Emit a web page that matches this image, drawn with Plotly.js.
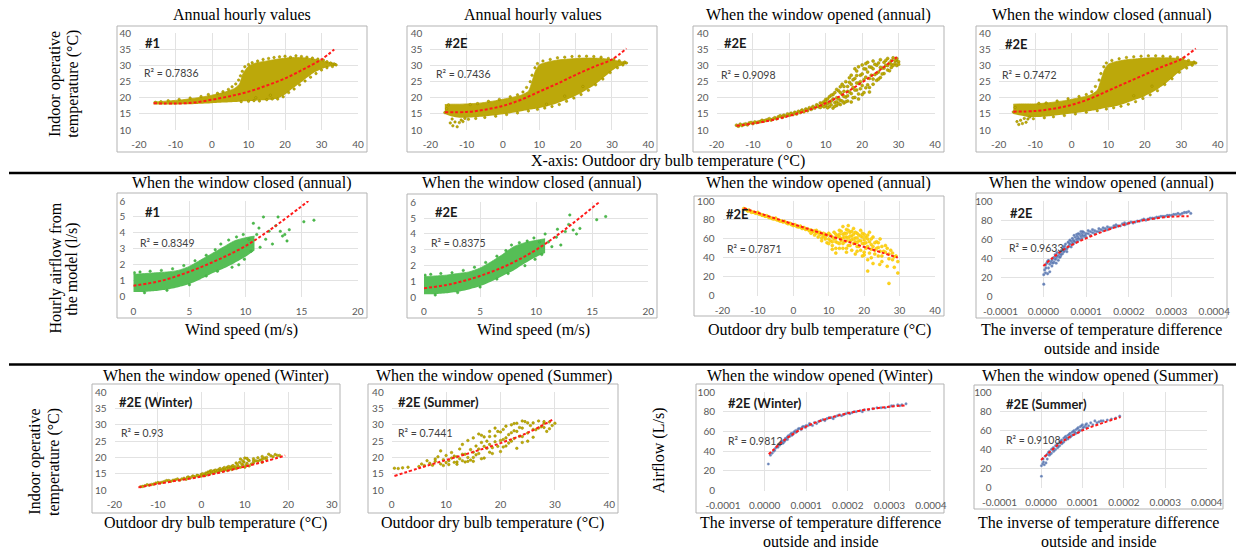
<!DOCTYPE html>
<html><head><meta charset="utf-8">
<script src="https://cdn.plot.ly/plotly-3.0.1.min.js"></script>
<style>html,body{margin:0;padding:0;background:#fff;}#chart{width:1236px;height:552px;}</style>
</head><body><div id="chart"></div>
<script>
// ---------------- tick values / labels ----------------
const tempTicks = [-20, -10, 0, 10, 20, 30, 40];
const tempTickText = ["-20", "-10", "0", "10", "20", "30", "40"];
const tempTicksWinter = [-20, -10, 0, 10, 20, 30];
const tempTickTextWinter = ["-20", "-10", "0", "10", "20", "30"];
const tempTicksSummer = [0, 10, 20, 30, 40];
const tempTickTextSummer = ["0", "10", "20", "30", "40"];
const indoorTicks = [10, 15, 20, 25, 30, 35, 40];
const windTicks = [0, 5, 10, 15, 20];
const smallFlowTicks = [0, 1, 2, 3, 4, 5, 6];
const flowTicks = [0, 20, 40, 60, 80, 100];
const invTicks = [-0.0001, 0, 0.0001, 0.0002, 0.0003, 0.0004];
const invTickText = ["-0.0001", "0.0000", "0.0001", "0.0002", "0.0003", "0.0004"];

// ---------------- Row 1, panel 1 (#1, annual) ----------------
const r1p1BandX  = [-16, -12, -8, -4, 0, 3, 6, 7.5, 8.5, 10, 12, 15, 18, 20, 22, 25, 28, 30, 32, 34];
const r1p1BandLo = [17.9, 17.9, 18.0, 18.1, 18.3, 18.5, 18.7, 18.8, 18.9, 19.0, 19.1, 19.3, 19.8, 21.0, 22.8, 25.3, 27.8, 28.9, 29.6, 30.0];
const r1p1BandHi = [18.7, 19.0, 19.4, 20.0, 20.8, 21.6, 22.8, 24.2, 27.5, 29.8, 30.8, 31.4, 32.0, 32.3, 32.5, 32.4, 32.0, 31.6, 31.0, 30.6];
const r1p1Points = [[-15.5,18.6],[-14,18.8],[-12,19.1],[-9,19.5],[-6,19.9],[-3,20.4],[-1,21.0],[1.5,21.4],[3,21.9],[4.5,22.6],[5.5,23.4],[6.5,24.3],[7.3,25.5],[7.8,26.8],[8.3,28.2],[9,29.6],[10,30.3],[11,30.9],[12.5,31.4],[14,31.9],[15.5,32.2],[17,32.5],[18.5,32.7],[20,32.9],[21.5,32.6],[23,33.0],[24.5,32.8],[26,32.6],[27.5,32.3],[29,32.0],[30.5,31.7],[31.5,31.2],[32.5,30.8],[33.5,30.5],[34,30.2],[33,29.7],[31.5,29.3],[30,28.6],[28.5,27.5],[27,26.4],[25.5,25.2],[24,24.0],[22.5,22.7],[21,21.6],[19.5,20.3],[18,19.6],[16.5,19.6],[15,19.4],[13,19.0],[11.5,19.1],[10,18.9],[8,18.8],[16,20.8],[12,20.0]];
const r1p1TrendX = [-16, -10, -5, 0, 5, 10, 15, 20, 25, 30, 33.5];
const r1p1TrendY = [18.3, 18.2, 18.5, 19.4, 20.5, 21.9, 23.8, 26.0, 28.8, 31.9, 35.0];

// ---------------- Row 1, panel 2 (#2E, annual) ----------------
const r1p2BandX  = [-16, -14, -12, -10, -6, -2, 2, 5, 7, 8, 9, 10, 12, 15, 18, 20, 22, 25, 28, 30, 32, 34];
const r1p2BandLo = [15.0, 14.2, 13.8, 13.8, 14.1, 14.6, 15.2, 15.8, 16.2, 16.4, 16.6, 16.8, 17.3, 18.3, 19.6, 20.6, 21.8, 23.8, 26.5, 28.4, 29.8, 30.5];
const r1p2BandHi = [17.9, 18.0, 18.0, 18.1, 18.4, 19.1, 20.0, 20.8, 22.0, 25.0, 28.5, 30.2, 31.0, 31.7, 32.0, 32.2, 32.3, 32.3, 32.1, 31.8, 31.3, 31.0];
const r1p2Points = [[-16,15.4],[-15.5,16.6],[-15,17.8],[-14.5,12.2],[-14,13.4],[-13.8,11.3],[-13.2,12.5],[-12.6,11.0],[-12,12.3],[-11.5,13.1],[-11,12.6],[-10.5,13.6],[-9.5,13.3],[-9,17.9],[-7,18.2],[-4,18.9],[-1,19.5],[2,20.3],[4,20.9],[5.5,21.8],[6.5,23.2],[7.5,25.0],[8,27.0],[8.8,29.3],[9.5,30.6],[11,31.4],[13,31.9],[15,32.4],[17,32.6],[19,32.8],[21,32.9],[23,32.9],[25,32.8],[27,32.6],[29,32.2],[30.5,31.9],[32,31.5],[33.5,31.1],[34,30.8],[33,30.2],[31.5,29.3],[29.5,27.8],[27.5,25.8],[25.5,24.0],[23.5,22.3],[21.5,21.0],[19.5,19.9],[17.5,18.9],[15.5,17.9],[13.5,17.3],[11.5,16.8],[9.5,16.4],[7,15.9],[4,15.3],[1,14.8],[-2,14.3],[-5,13.9],[-7.5,13.6],[17,20.5],[22,23.5],[12,18.0]];
const r1p2TrendX = [-16, -10, -5, 0, 5, 10, 15, 20, 25, 30, 34];
const r1p2TrendY = [15.5, 15.6, 16.3, 17.5, 19.4, 21.9, 24.4, 27.1, 29.6, 31.9, 35.3];

// ---------------- Row 1, panel 3 (#2E, window opened) ----------------
const r1p3Points = [[-14.5,11.5],[-14,11.2],[-13.5,11.8],[-13,11.4],[-12,11.9],[-11.5,11.6],[-11,12.2],[-10,12.0],[-9.5,12.5],[-9,12.3],[-8,12.6],[-7.5,13.0],[-7,12.8],[-6,13.2],[-5.5,13.5],[-5,13.1],[-4,13.8],[-3.5,13.5],[-3,14.1],[-2.5,14.4],[-2,13.9],[-1.5,14.6],[-1,14.3],[-0.5,15.0],[0,14.6],[0.5,15.2],[1,14.8],[1.5,15.5],[2,15.0],[2.5,15.8],[3,15.4],[3.5,16.2],[4,15.7],[4.5,16.5],[5,16.0],[5.5,16.9],[6,16.4],[6.5,17.3],[7,16.8],[7.5,17.8],[8,17.2],[8.5,18.4],[9,17.6],[9.5,18.8],[10,17.5],[10,19.5],[10.5,18.2],[11,20.3],[11,17.3],[11.5,19.0],[12,16.8],[12,21.0],[12.5,18.5],[13,20.0],[13,17.6],[13.5,22.2],[14,19.2],[14,17.9],[14.5,21.0],[15,23.5],[15,18.4],[15.5,20.2],[16,22.0],[16,19.0],[16.5,24.8],[17,21.3],[17,18.7],[17.5,23.2],[18,26.0],[18,20.1],[18.5,22.4],[18.5,28.3],[19,24.5],[19,19.6],[19.5,27.0],[20,21.0],[20,30.2],[20.5,25.6],[21,23.1],[21,28.9],[21.5,31.0],[22,26.0],[22,21.8],[22.5,29.5],[23,24.2],[23,31.4],[23.5,27.2],[24,30.1],[24,25.4],[24.5,28.0],[25,31.8],[25,26.3],[25.5,29.2],[26,31.0],[26,27.5],[26.5,30.1],[27,32.2],[27,28.6],[27.5,30.8],[28,31.5],[28,29.4],[28.5,32.4],[29,30.6],[29.5,31.5],[29.5,30.0],[30,31.2],
  [-12.5,11.7],[-10.5,12.3],[-8.5,12.5],[-6.5,13.0],[-4.5,13.4],[-1.8,14.2],[0.3,14.9],[1.8,15.2],[3.3,15.9],[4.8,16.3],[6.3,16.8],[7.8,17.5],[8.5,17.0],[9,18.3],[9.5,17.2],[10,18.8],[10.5,19.6],[10.5,16.9],[11,18.6],[11.5,20.8],[11.5,17.8],[12,19.6],[12.5,21.6],[12.5,17.4],[13,18.8],[13,22.6],[13.5,19.8],[13.5,18.2],[14,21.6],[14,23.4],[14.5,19.0],[14.5,24.2],[15,22.0],[15,20.4],[15.5,25.0],[15.5,18.8],[16,23.5],[16,20.6],[16.5,21.8],[16.5,26.2],[17,24.2],[17,27.0],[17.5,20.0],[17.5,25.6],[18,22.4],[18,29.0],[18.5,24.6],[18.5,26.9],[19,21.2],[19,29.6],[19.5,25.0],[19.5,22.8],[20,27.4],[20,23.8],[20.5,29.0],[20.5,21.6],[21,26.4],[21,30.6],[21.5,24.0],[21.5,28.0],[22,29.6],[22,23.2],[22.5,27.0],[23,29.0],[23,25.8],[23.5,30.4],[24,27.6],[24.5,30.8],[24.5,25.8],[25,29.4],[25.5,27.4],[26,29.2],[26.5,31.6],[27,30.0],[27.5,28.4],[28,30.4],[28.5,30.0],[29,31.6],[29.5,32.2],[30,30.4]];
const r1p3TrendX = [-14.5, -10, -5, 0, 5, 10, 15, 20, 25, 29.5];
const r1p3TrendY = [11.3, 12.0, 13.0, 14.4, 16.1, 18.3, 21.2, 24.8, 28.7, 32.6];

// ---------------- Row 1, panel 4 (#2E, window closed) ----------------
const r1p4BandX  = [-16, -14, -12, -10, -6, -2, 2, 5, 7, 8, 9, 10, 12, 15, 18, 20, 22, 25, 28, 30, 32, 34];
const r1p4BandLo = [15.0, 14.5, 14.0, 14.0, 14.3, 14.8, 15.4, 15.9, 16.3, 16.5, 16.8, 17.0, 17.4, 18.4, 19.6, 20.5, 21.6, 23.8, 26.6, 28.5, 29.8, 30.4];
const r1p4BandHi = [18.0, 18.1, 18.1, 18.1, 18.5, 19.1, 20.0, 20.8, 22.3, 25.5, 28.8, 30.4, 31.2, 31.8, 32.1, 32.3, 32.4, 32.4, 32.3, 32.0, 31.4, 31.0];
const r1p4Points = [[-16,15.6],[-15.5,17.0],[-15,12.6],[-14.5,11.7],[-14,13.0],[-13.5,12.0],[-13,13.6],[-12.5,12.4],[-12,13.4],[-11.5,14.0],[-10.5,13.5],[-9,18.3],[-7,18.4],[-4,19.0],[-1,19.7],[2,20.4],[4,21.0],[5.5,21.9],[6.5,23.5],[7.5,25.5],[8,27.5],[8.8,29.6],[9.5,30.8],[11,31.6],[13,32.1],[15,32.5],[17,32.7],[19,32.9],[21,33.0],[23,33.0],[25,32.9],[27,32.7],[29,32.5],[30.5,32.2],[32,31.6],[33.5,31.1],[34,30.8],[33,30.1],[31.5,29.2],[29.5,27.9],[27.5,25.9],[25.5,24.1],[23.5,22.2],[21.5,20.9],[19.5,19.8],[17.5,18.8],[15.5,18.0],[13.5,17.4],[11.5,16.9],[9.5,16.5],[7,16.0],[4,15.5],[1,15.0],[-2,14.5],[-5,14.1],[-7.5,13.8],[17,20.6],[22,23.6]];
const r1p4TrendX = [-16, -10, -5, 0, 5, 10, 15, 20, 25, 30, 34];
const r1p4TrendY = [15.7, 15.9, 16.6, 17.8, 19.7, 22.2, 24.7, 27.2, 29.7, 32.0, 35.3];

// ---------------- Row 2, panel 1 (#1 airflow vs wind) ----------------
const r2p1BandX  = [0, 1, 2, 3, 4, 5, 6, 7, 8, 9, 10, 10.8];
const r2p1BandLo = [0.3, 0.3, 0.35, 0.45, 0.6, 0.8, 1.1, 1.45, 1.75, 2.1, 2.5, 2.9];
const r2p1BandHi = [1.4, 1.45, 1.5, 1.55, 1.65, 1.9, 2.3, 2.7, 3.1, 3.5, 3.7, 3.8];
const r2p1Points = [[0.1,1.5],[0.6,1.55],[1.5,1.6],[2.5,1.65],[3.5,1.75],[4.5,1.95],[5.5,2.25],[6.5,2.6],[7.3,2.95],[7.8,3.3],[8.5,3.55],[9.2,3.75],[9.8,3.9],[10.3,3.6],[10.7,4.6],[11.0,3.9],[11.2,4.3],[11.6,5.0],[11.8,3.6],[12.1,4.1],[12.4,3.3],[12.7,4.45],[12.9,5.0],[13.1,4.1],[13.3,3.8],[13.5,3.9],[13.7,3.5],[13.9,4.2],[15.2,4.7],[16.1,4.8],[9.4,2.0],[8.8,1.85],[10.5,2.85],[11.3,3.1],[7.5,1.6],[6.5,1.3],[5,0.75],[3,0.4],[1,0.25],[9.9,2.35]];
const r2p1TrendX = [0, 2.5, 5, 7.5, 10, 12.5, 15.6];
const r2p1TrendY = [0.69, 1.0, 1.57, 2.3, 3.18, 4.35, 6.0];

// ---------------- Row 2, panel 2 (#2E airflow vs wind) ----------------
const r2p2BandX  = [0, 1, 2, 3, 4, 5, 6, 7, 8, 9, 10, 10.8];
const r2p2BandLo = [0.2, 0.2, 0.25, 0.35, 0.5, 0.7, 1.0, 1.35, 1.7, 2.15, 2.55, 2.8];
const r2p2BandHi = [1.3, 1.35, 1.4, 1.5, 1.6, 1.85, 2.25, 2.7, 3.2, 3.45, 3.6, 3.7];
const r2p2Points = [[0.1,1.4],[0.6,1.45],[1.5,1.5],[2.5,1.55],[3.5,1.7],[4.5,1.9],[5.5,2.2],[6.5,2.6],[7.3,2.95],[7.8,3.3],[8.5,3.45],[9.2,3.55],[9.8,3.75],[10.3,3.5],[10.8,4.0],[11.1,3.5],[11.4,3.2],[11.8,3.8],[12.2,3.3],[12.6,4.15],[12.9,4.6],[13.0,5.2],[13.3,4.25],[13.6,4.0],[13.9,4.35],[15.4,4.9],[16.2,5.1],[11.9,4.3],[9.0,2.0],[10.5,2.7],[7.5,1.5],[6.5,1.15],[5,0.65],[3,0.3],[1,0.15],[9.9,2.4]];
const r2p2TrendX = [0, 2.5, 5, 7.5, 10, 12.5, 15.6];
const r2p2TrendY = [0.57, 0.85, 1.35, 2.05, 3.0, 4.25, 6.0];

// ---------------- Row 2, panel 3 (#2E airflow vs outdoor temp) ----------------
const r2p3Points = [[-14,92],[-13.5,91.5],[-13,90],[-12.5,90.5],[-12,89],[-11.5,88.5],[-11,88],[-10.5,87],[-10,88],[-9.5,86],[-9,85.5],[-8.5,85],[-8,84],[-7.5,84.5],[-7,83],[-6.5,82.5],[-6,81.5],[-5.5,81],[-5,82],[-4.5,80],[-4,79.5],[-3.5,79],[-3,78],[-2.5,78.5],[-2,77],[-1.5,76],[-1,76.5],[-0.5,75],[0,74],[0.5,75],[1,73],[1.5,72.5],[2,73.5],[2.5,71],[3,72],[3.5,70],[4,70.5],[4.5,68.5],[5,69.5],[5.5,67.5],[6,68.5],[6.5,66],[7,67],[7.5,64.5],[8,65.5],[8,61],[8.5,63],[9,60],[9,65],[9.5,56],[10,66],[10.5,58],[11,62],[11,53],[11.5,67],[12,57],[12,50],[12.5,63],[13,69],[13,55],[13.5,60],[14,73],[14,65],[14,50],[14.5,57],[15,70],[15,62],[15,46],[15.5,74],[15.5,53],[16,67],[16,58],[16.5,63],[16.5,48],[17,71],[17,55],[17.5,61],[17.5,44],[18,66],[18,52],[18.5,58],[19,69],[19,48],[19.5,62],[19.5,42],[20,55],[20,65],[20.5,50],[21,60],[21,38],[21.5,67],[21.5,45],[22,54],[22.5,62],[22.5,34],[23,48],[23.5,57],[24,42],[24,51],[24.5,60],[25,36],[25.5,47],[26,53],[26.5,31],[27,44],[27,13],[27.5,48],[28,38],[28.5,30],[29,42],[29.5,24],[29.5,36],[21,26],[24.4,33],
  [-13.8,91],[-12.8,89.5],[-11.8,88],[-10.8,87.5],[-9.8,86.5],[-8.8,85],[-7.8,84],[-6.8,82.5],[-5.8,81.5],[-4.8,80.5],[-3.8,79],[-2.8,78],[-1.8,77],[-0.8,76],[0.2,74.5],[1.2,73.5],[2.2,72],[3.2,71],[4.2,70],[5,66],[6,64],[6.5,69],[7,62],[7.5,67],[8,58],[8.5,66],[9,62],[9.5,64],[10,60],[10,55],[10.5,64],[11,57],[11.5,60],[12,65],[12,61],[12.5,56],[13,62],[13,65],[13.5,58],[13.5,68],[14,61],[14,55],[14.5,66],[14.5,62],[15,58],[15,66],[15.5,61],[15.5,69],[16,63],[16,53],[16.5,59],[16.5,68],[17,60],[17,65],[17.5,57],[17.5,67],[18,61],[18,56],[18.5,64],[18.5,52],[19,58],[19,63],[19.5,55],[19.5,66],[20,59],[20,46],[20.5,62],[20.5,56],[21,52],[21,64],[21.5,57],[22,49],[22,60],[22.5,52],[23,56],[23,44],[23.5,50],[24,56],[24.5,47],[25,52],[25,42],[26,46],[26.5,50],[27,39],[28,45],[28.5,41],[13,50],[11,49],[12,45],[15,50],[18,47],[20,43],[22,40]];
const r2p3TrendX = [-14, -10, -5, 0, 5, 10, 15, 20, 25, 29.5];
const r2p3TrendY = [92.3, 87.5, 81.5, 75.5, 69.5, 63.5, 57.5, 51.5, 45.5, 40.2];

// ---------------- Row 2, panel 4 (#2E airflow vs 1/dT) ----------------
const r2p4Points = [[0.1e-5,13],[0.1e-5,23],[0.5e-5,25],[1.0e-5,24],[1.5e-5,26],[0.5e-5,33],[1.0e-5,37],[1.2e-5,30],[1.5e-5,34],[2e-5,38],[2e-5,32],[2.5e-5,36],[2.5e-5,41],[3e-5,40],[3e-5,35],[3.5e-5,43],[3.5e-5,38],[4e-5,42],[4e-5,47],[4.5e-5,45],[4.5e-5,50],[5e-5,48],[5e-5,53],[5.5e-5,50],[5.5e-5,47],[6e-5,53],[6e-5,56],[6.5e-5,52],[6.5e-5,58],[7e-5,55],[7e-5,59],[7.5e-5,57],[7.5e-5,62],[8e-5,58],[8e-5,63],[8.5e-5,60],[8.5e-5,65],[9e-5,61],[9e-5,66],[9.5e-5,63],[9.5e-5,67],[1e-4,62],[1e-4,66],[1.1e-4,64],[1.1e-4,68],[1.2e-4,66],[1.2e-4,69],[1.3e-4,68],[1.3e-4,71],[1.4e-4,69],[1.4e-4,72],[1.5e-4,70],[1.5e-4,73],[1.6e-4,72],[1.7e-4,73],[1.7e-4,75],[1.8e-4,74],[1.9e-4,75],[1.9e-4,77],[2e-4,77],[2.1e-4,77],[2.2e-4,79],[2.3e-4,80],[2.4e-4,80],[2.5e-4,82],[2.6e-4,82],[2.7e-4,83],[2.8e-4,84],[2.9e-4,85],[3e-4,85],[3.1e-4,86],[3.2e-4,86],[3.3e-4,88],[3.4e-4,89],[3.45e-4,87],
  [0.3e-5,28],[0.6e-5,30],[0.8e-5,35],[1.2e-5,38],[1.8e-5,36],[2.2e-5,40],[2.2e-5,35],[2.8e-5,39],[2.8e-5,44],[3.2e-5,42],[3.2e-5,46],[3.8e-5,45],[3.8e-5,41],[4.2e-5,48],[4.2e-5,44],[4.8e-5,47],[4.8e-5,52],[5.2e-5,50],[5.2e-5,55],[5.8e-5,52],[5.8e-5,57],[6.2e-5,55],[6.2e-5,59],[6.8e-5,56],[6.8e-5,61],[7.2e-5,58],[7.2e-5,64],[7.8e-5,60],[7.8e-5,65],[8.2e-5,61],[8.2e-5,66],[8.8e-5,63],[8.8e-5,68],[9.2e-5,64],[9.2e-5,68],[9.8e-5,64],[1.05e-4,66],[1.05e-4,69],[1.15e-4,67],[1.15e-4,70],[1.25e-4,68],[1.35e-4,70],[1.45e-4,71],[1.55e-4,72],[1.65e-4,74],[1.75e-4,74],[1.85e-4,76],[1.95e-4,76],[2.05e-4,78],[2.15e-4,78],[2.25e-4,79],[2.35e-4,81],[2.45e-4,81],[2.55e-4,82],[2.65e-4,83],[2.75e-4,84],[2.85e-4,84],[2.95e-4,85],[3.05e-4,86],[3.15e-4,87],[3.25e-4,87],[3.35e-4,88]];
const r2p4TrendX = [0, 2e-5, 5e-5, 1e-4, 1.5e-4, 2e-4, 2.5e-4, 3e-4, 3.4e-4];
const r2p4TrendY = [32, 40, 50, 61, 69.7, 76.7, 81, 83.6, 84];

// ---------------- Row 3, panel 1 (#2E winter, indoor temp) ----------------
const r3p1Points = [[-14,11.0],[-13,11.3],[-12,11.5],[-11,11.8],[-10.5,12.1],[-10,12.3],[-9,12.4],[-8,12.9],[-7,12.7],[-6,13.1],[-5.5,13.4],[-5,13.0],[-4,13.6],[-3.5,13.3],[-3,14.0],[-2.5,13.8],[-2,14.3],[-1.5,14.0],[-1,14.5],[-0.5,14.2],[0,14.8],[0,14.3],[0.5,14.6],[1,15.2],[1,14.7],[1.5,15.5],[2,15.0],[2,15.8],[2.5,15.4],[3,16.0],[3,15.3],[3.5,15.7],[4,16.3],[4,15.5],[4.5,16.0],[5,16.6],[5,15.8],[5.5,16.2],[6,17.0],[6,16.0],[6.5,16.5],[7,17.3],[7,16.3],[7.5,16.8],[8,18.3],[8,16.6],[8.5,17.2],[9,19.5],[9,17.0],[9.5,17.7],[10,19.8],[10,17.0],[10.5,18.2],[11,19.0],[11,17.4],[12,18.3],[12,19.6],[13,18.8],[13,19.9],[14,19.4],[14,18.5],[15,20.0],[15.5,21.0],[16,20.5],[17,20.9],[18,20.6],
  [-13.5,11.1],[-12.5,11.6],[-11.5,11.7],[-9.5,12.2],[-8.5,12.6],[-7.5,12.9],[-6.5,13.0],[-4.5,13.4],[-3.2,13.9],[-1.8,14.2],[-0.8,14.4],[0.3,15.0],[0.8,14.4],[1.3,15.0],[1.8,15.3],[2.3,15.9],[2.8,15.6],[3.3,16.1],[3.8,15.9],[4.3,16.6],[4.8,16.1],[5.3,16.9],[5.8,16.5],[6.3,17.2],[6.8,16.8],[7.3,17.5],[7.8,17.1],[8.3,17.8],[8.8,18.5],[9.3,18.0],[9.8,18.6],[10.3,17.6],[10.8,19.2],[11.5,18.0],[12.5,19.0],[13.5,19.2],[14.5,19.8],[15,19.3],[16.5,20.2],[17.5,20.6],[14,20.3],[12,18.9],[10.5,19.7],[9.5,19.0]];
const r3p1TrendX = [-14.5, -10, -5, 0, 5, 10, 15, 19.3];
const r3p1TrendY = [10.8, 11.9, 13.0, 14.1, 15.6, 17.2, 18.9, 20.6];

// ---------------- Row 3, panel 2 (#2E summer, indoor temp) ----------------
const r3p2Points = [[0.5,16.7],[1.2,16.6],[2,16.8],[3,17.0],[5,17.2],[5.5,18.0],[6,17.5],[6.5,19.0],[7,18.2],[7.5,17.6],[8,18.8],[8.5,20.2],[9,18.0],[9,22.0],[9.5,19.3],[10,18.4],[10,20.6],[10.5,17.8],[11,19.8],[11,21.5],[11.5,18.5],[12,20.2],[12,17.9],[12.5,22.6],[13,19.0],[13,24.0],[13.5,21.0],[14,18.8],[14,25.2],[14.5,22.4],[15,20.0],[15,26.0],[15.5,23.5],[16,21.2],[16,27.2],[16.5,24.6],[17,19.8],[17,26.3],[17.5,22.8],[18,28.0],[18,24.0],[18.5,21.2],[19,26.6],[19,29.0],[19.5,23.4],[20,27.8],[20,21.8],[20.5,25.5],[21,29.6],[21,23.5],[21.5,27.0],[22,30.0],[22,25.0],[22.5,28.2],[23,22.8],[23,30.5],[23.5,26.5],[24,29.0],[24,24.6],[24.5,31.0],[25,27.5],[25.5,29.8],[26,26.2],[26,30.6],[26.5,28.5],[27,31.2],[27.5,29.4],[28,30.5],[28.5,28.0],[29,30.9],[29.5,29.8],
  [8,19.5],[9.5,17.5],[10.5,19.0],[11.5,20.4],[12,18.6],[12.5,19.6],[13,21.0],[13.5,18.6],[14,20.0],[14.5,19.2],[15,21.6],[15,18.8],[15.5,20.8],[16,22.6],[16.5,19.6],[16.5,26.8],[17,23.4],[17.5,25.0],[18,21.6],[18,26.4],[18.5,23.0],[19,24.8],[19.5,28.0],[20,25.2],[20.5,23.2],[20.5,28.6],[21,26.0],[21.5,24.4],[22,27.6],[22.5,25.8],[22.5,30.4],[23,28.0],[23.5,29.2],[24,26.4],[24,31.2],[25,30.6],[25,25.0],[26,28.6],[27,29.0],[28,29.2],[28,31.0],[29,28.8],[30,30.5]];
const r3p2TrendX = [0.5, 5, 10, 15, 20, 25, 29.5];
const r3p2TrendY = [14.3, 16.7, 19.2, 21.7, 24.4, 27.6, 31.5];

// ---------------- Row 3, panel 3 (#2E winter airflow) ----------------
const r3p3Points = [[0.9e-5,27],[1.4e-5,36],[1.8e-5,38],[2.2e-5,40],[2.6e-5,43],[3e-5,45],[3.4e-5,47],[3.8e-5,48],[4.2e-5,50],[4.6e-5,51],[5e-5,53],[5.4e-5,54],[5.8e-5,56],[6.2e-5,57],[6.6e-5,58],[7e-5,59],[7.5e-5,61],[8e-5,62],[8.5e-5,63],[9e-5,64],[9.5e-5,65],[1e-4,66],[1.05e-4,66],[1.1e-4,67],[1.2e-4,69],[1.3e-4,70],[1.4e-4,72],[1.5e-4,73],[1.6e-4,74],[1.7e-4,75],[1.8e-4,77],[1.9e-4,77],[2e-4,79],[2.1e-4,79],[2.2e-4,80],[2.3e-4,81],[2.4e-4,82],[2.5e-4,82],[2.6e-4,83],[2.8e-4,84],[3e-4,85],[3.1e-4,86],[3.2e-4,87],[3.3e-4,87],[3.4e-4,88],[4.5e-5,49],[5.5e-5,52],[6.5e-5,56],[7.5e-5,59],[1.15e-4,66],
  [2.4e-5,41],[3.2e-5,44],[3.6e-5,46],[4e-5,49],[4.4e-5,48],[4.8e-5,50],[5.2e-5,52],[5.6e-5,55],[6e-5,55],[6.4e-5,58],[6.8e-5,57],[7.2e-5,60],[7.8e-5,60],[8.2e-5,63],[8.8e-5,62],[9.2e-5,65],[9.8e-5,64],[1.08e-4,68],[1.25e-4,68],[1.35e-4,71],[1.45e-4,71],[1.55e-4,74],[1.65e-4,73],[1.75e-4,76],[1.85e-4,76],[1.95e-4,78],[2.05e-4,78],[2.15e-4,80],[2.35e-4,80],[2.7e-4,84],[2.9e-4,84],[3.05e-4,86],[3.25e-4,86]];
const r3p3TrendX = [1e-5, 2e-5, 5e-5, 1e-4, 1.5e-4, 2e-4, 2.5e-4, 3e-4, 3.4e-4];
const r3p3TrendY = [37, 41, 52, 65, 73, 78.5, 82.5, 85, 86.5];

// ---------------- Row 3, panel 4 (#2E summer airflow) ----------------
const r3p4Points = [[0.1e-5,12],[0.1e-5,23],[0.4e-5,25],[0.8e-5,24],[1.2e-5,26],[0.5e-5,30],[1e-5,33],[1.5e-5,35],[1.5e-5,30],[2e-5,38],[2e-5,34],[2.5e-5,40],[2.5e-5,36],[3e-5,42],[3e-5,38],[3.5e-5,44],[3.5e-5,40],[4e-5,46],[4e-5,42],[4.5e-5,48],[4.5e-5,44],[5e-5,50],[5e-5,46],[5.5e-5,52],[5.5e-5,48],[6e-5,54],[6e-5,50],[6.5e-5,55],[6.5e-5,51],[7e-5,57],[7e-5,53],[7.5e-5,58],[7.5e-5,55],[8e-5,60],[8e-5,56],[8.5e-5,61],[8.5e-5,57],[9e-5,63],[9e-5,58],[9.5e-5,64],[9.5e-5,60],[1e-4,66],[1e-4,61],[1.05e-4,64],[1.1e-4,67],[1.1e-4,63],[1.2e-4,68],[1.25e-4,66],[1.3e-4,70],[1.4e-4,69],[1.5e-4,70],[1.6e-4,71],[1.7e-4,72],[1.8e-4,73],[1.9e-4,75],
  [0.6e-5,27],[1.8e-5,37],[2.2e-5,35],[2.8e-5,41],[3.2e-5,39],[3.8e-5,45],[4.2e-5,43],[4.8e-5,49],[5.2e-5,47],[5.8e-5,53],[6.2e-5,52],[6.8e-5,56],[7.2e-5,54],[7.8e-5,59],[8.2e-5,58],[8.8e-5,62],[9.2e-5,60],[9.8e-5,65],[1.02e-4,63],[1.08e-4,66],[1.15e-4,65],[1.35e-4,68],[1.45e-4,70]];
const r3p4TrendX = [0, 2e-5, 5e-5, 1e-4, 1.5e-4, 1.92e-4];
const r3p4TrendY = [29, 37, 48, 60, 68, 74];

// ---------------- layout helpers ----------------
const W = 1236, H = 552;
const OLIVE = {fill: '#bca80a', mk: '#c2ae00', mkLine: '#978600'};
const GREEN = {fill: '#56be56', mk: '#4cbb4c', mkLine: '#40aa40'};
const YELLOW = {mk: '#ffd21a', mkLine: '#f2c400'};
const BLUE = {mk: 'rgba(80,110,170,0.85)', mkLine: 'rgba(150,170,210,0.6)'};

const panels = [
  {plot:[139,33.3,358,130], frame:[117,26,367,152], xr:[-20,40], yr:[10,40], xt:tempTicks, xtt:tempTickText, yt:indoorTicks,
   band:[r1p1BandX,r1p1BandLo,r1p1BandHi], pts:r1p1Points, col:OLIVE, tr:[r1p1TrendX,r1p1TrendY], msize:2.5,
   label:['#1',143,43], r2:['R² = 0.7836',142,73]},
  {plot:[430.3,33.3,648.3,130], frame:[407,26,657,152], xr:[-20,40], yr:[10,40], xt:tempTicks, xtt:tempTickText, yt:indoorTicks,
   band:[r1p2BandX,r1p2BandLo,r1p2BandHi], pts:r1p2Points, col:OLIVE, tr:[r1p2TrendX,r1p2TrendY], msize:2.5,
   label:['#2E',443,43], r2:['R² = 0.7436',434,74]},
  {plot:[716.5,33.3,935,130], frame:[693,26,944,152], xr:[-20,40], yr:[10,40], xt:tempTicks, xtt:tempTickText, yt:indoorTicks,
   pts:r1p3Points, col:OLIVE, tr:[r1p3TrendX,r1p3TrendY], msize:3,
   label:['#2E',722,43], r2:['R² = 0.9098',719,75]},
  {plot:[998.7,33.3,1217.7,130], frame:[976,26,1227,152], xr:[-20,40], yr:[10,40], xt:tempTicks, xtt:tempTickText, yt:indoorTicks,
   band:[r1p4BandX,r1p4BandLo,r1p4BandHi], pts:r1p4Points, col:OLIVE, tr:[r1p4TrendX,r1p4TrendY], msize:2.5,
   label:['#2E',1003,44], r2:['R² = 0.7472',1000,75]},

  {plot:[133.3,201,357.7,296.7], frame:[117,193,367,318], xr:[0,20], yr:[0,6], xt:windTicks, yt:smallFlowTicks,
   band:[r2p1BandX,r2p1BandLo,r2p1BandHi], pts:r2p1Points, col:GREEN, tr:[r2p1TrendX,r2p1TrendY], msize:2.5,
   label:['#1',143,212], r2:['R² = 0.8349',138,243]},
  {plot:[424,202.3,648.3,297.3], frame:[407,194,657,318], xr:[0,20], yr:[0,6], xt:windTicks, yt:smallFlowTicks,
   band:[r2p2BandX,r2p2BandLo,r2p2BandHi], pts:r2p2Points, col:GREEN, tr:[r2p2TrendX,r2p2TrendY], msize:2.5,
   label:['#2E',433,212], r2:['R² = 0.8375',429,243]},
  {plot:[722.5,201,935,295.7], frame:[694,196,944,316], xr:[-20,40], yr:[0,100], xt:tempTicks, xtt:tempTickText, yt:flowTicks,
   pts:r2p3Points, col:YELLOW, tr:[r2p3TrendX,r2p3TrendY], msize:3,
   label:['#2E',724,214], r2:['R² = 0.7871',725,249]},
  {plot:[1000.6,201,1214.3,296.7], frame:[976,193,1227,318], xr:[-0.0001,0.0004], yr:[0,100], xt:invTicks, xtt:invTickText, yt:flowTicks,
   pts:r2p4Points, col:BLUE, tr:[r2p4TrendX,r2p4TrendY], msize:2.8,
   label:['#2E',1008,213], r2:['R² = 0.9633',1007,248]},

  {plot:[114.5,392.3,331.7,490], frame:[92,384,340,513], xr:[-20,30], yr:[10,40], xt:tempTicksWinter, xtt:tempTickTextWinter, yt:indoorTicks,
   pts:r3p1Points, col:OLIVE, tr:[r3p1TrendX,r3p1TrendY], msize:2.6,
   label:['#2E (Winter)',117,402], r2:['R² = 0.93',119,433]},
  {plot:[391.7,392.3,609.3,490], frame:[368,384,618,513], xr:[0,40], yr:[10,40], xt:tempTicksSummer, xtt:tempTickTextSummer, yt:indoorTicks,
   pts:r3p2Points, col:OLIVE, tr:[r3p2TrendX,r3p2TrendY], msize:2.6,
   label:['#2E (Summer)',396,402], r2:['R² = 0.7441',396,433]},
  {plot:[723,392,931,490.7], frame:[696,384,944,513], xr:[-0.0001,0.0004], yr:[0,100], xt:invTicks, xtt:invTickText, yt:flowTicks,
   pts:r3p3Points, col:BLUE, tr:[r3p3TrendX,r3p3TrendY], msize:2.6,
   label:['#2E (Winter)',726,403], r2:['R² = 0.9812',726,441]},
  {plot:[999.6,392.3,1206.7,487.7], frame:[974,385,1223,509], xr:[-0.0001,0.0004], yr:[0,100], xt:invTicks, xtt:invTickText, yt:flowTicks,
   pts:r3p4Points, col:BLUE, tr:[r3p4TrendX,r3p4TrendY], msize:2.6,
   label:['#2E (Summer)',1004,404], r2:['R² = 0.9108',1004,440]}
];

const TICKFONT = {family: 'Lato, "Open Sans", sans-serif', size: 10, color: '#595959'};
const SERIF = 'Liberation Serif, "Times New Roman", serif';

const traces = [];
const layout = {
  width: W, height: H, margin: {l:0, r:0, t:0, b:0},
  paper_bgcolor: '#ffffff', plot_bgcolor: '#ffffff', showlegend: false,
  annotations: [], shapes: []
};

function annPx(text, x, y, o) {
  return Object.assign({text: text, xref: 'paper', yref: 'paper', x: x / W, y: 1 - y / H,
    showarrow: false, xanchor: 'center', yanchor: 'middle'}, o || {});
}

panels.forEach((p, i) => {
  const n = i + 1;
  const xa = n === 1 ? 'x' : 'x' + n, ya = n === 1 ? 'y' : 'y' + n;
  const xk = n === 1 ? 'xaxis' : 'xaxis' + n, yk = n === 1 ? 'yaxis' : 'yaxis' + n;
  const [l, t, r, b] = p.plot;
  layout[xk] = {
    domain: [l / W, r / W], anchor: ya, range: p.xr, fixedrange: true,
    tickmode: 'array', tickvals: p.xt, ticktext: p.xtt || p.xt.map(String),
    showgrid: true, gridcolor: '#e2e2e2', gridwidth: 1, zeroline: false, showline: false,
    ticks: 'outside', ticklen: 5, tickcolor: 'rgba(0,0,0,0)', tickfont: TICKFONT
  };
  layout[yk] = {
    domain: [1 - b / H, 1 - t / H], anchor: xa, range: p.yr, fixedrange: true,
    tickmode: 'array', tickvals: p.yt, ticktext: p.yt.map(String),
    showgrid: true, gridcolor: '#e2e2e2', gridwidth: 1, zeroline: false, showline: false,
    ticks: 'outside', ticklen: 5, tickcolor: 'rgba(0,0,0,0)', tickfont: TICKFONT
  };
  if (p.band) {
    traces.push({x: p.band[0], y: p.band[1], xaxis: xa, yaxis: ya, mode: 'lines',
      line: {width: 0, color: p.col.fill, shape: 'spline', smoothing: 0.6}, hoverinfo: 'skip'});
    traces.push({x: p.band[0], y: p.band[2], xaxis: xa, yaxis: ya, mode: 'lines', fill: 'tonexty',
      fillcolor: p.col.fill, line: {width: 0.8, color: p.col.fill, shape: 'spline', smoothing: 0.6},
      hoverinfo: 'skip'});
  }
  traces.push({x: p.pts.map(d => d[0]), y: p.pts.map(d => d[1]), xaxis: xa, yaxis: ya, mode: 'markers',
    marker: {size: p.msize || 3, color: p.col.mk, line: {width: 0.5, color: p.col.mkLine}}, hoverinfo: 'skip'});
  traces.push({x: p.tr[0], y: p.tr[1], xaxis: xa, yaxis: ya, mode: 'lines',
    line: {color: '#ff1a1a', width: 2, dash: '3px,2px', shape: 'spline'}, hoverinfo: 'skip'});

  const [fl, ft, fr, fb] = p.frame;
  layout.shapes.push({type: 'rect', xref: 'paper', yref: 'paper', x0: fl / W, x1: fr / W, y0: 1 - fb / H, y1: 1 - ft / H,
    line: {color: '#b3b3b3', width: 1}, fillcolor: 'rgba(0,0,0,0)', layer: 'below'});
  layout.annotations.push(annPx('<b>' + p.label[0] + '</b>', p.label[1], p.label[2],
    {xanchor: 'left', font: {family: 'Lato, "Open Sans", sans-serif', size: 13, color: '#1a1a1a'}}));
  layout.annotations.push(annPx(p.r2[0], p.r2[1], p.r2[2],
    {xanchor: 'left', font: {family: 'Lato, "Open Sans", sans-serif', size: 10.5, color: '#404040'}}));
});

// separator lines
[173, 364.5].forEach(y => layout.shapes.push({type: 'line', xref: 'paper', yref: 'paper',
  x0: 9 / W, x1: 1, y0: 1 - y / H, y1: 1 - y / H, line: {color: '#000000', width: 2.5}}));

// titles (text)
const TF = {family: SERIF, size: 16, color: '#000000'};
const titles = [
  ['Annual hourly values', 241.7, 15], ['Annual hourly values', 533, 15],
  ['When the window opened (annual)', 818.5, 15], ['When the window closed (annual)', 1101, 15],
  ['X-axis: Outdoor dry bulb temperature (°C)', 668.3, 161],
  ['When the window closed (annual)', 241.7, 183.3], ['When the window closed (annual)', 531.7, 183.3],
  ['When the window opened (annual)', 818.7, 183.3], ['When the window opened (annual)', 1101, 183.3],
  ['Wind speed (m/s)', 241.7, 330], ['Wind speed (m/s)', 533, 330],
  ['Outdoor dry bulb temperature (°C)', 819, 330],
  ['The inverse of temperature difference', 1101.7, 330], ['outside and inside', 1101.7, 348],
  ['When the window opened (Winter)', 215.5, 375.7], ['When the window opened (Summer)', 494, 375.7],
  ['When the window opened (Winter)', 820, 375.7], ['When the window opened (Summer)', 1099.8, 375.7],
  ['Outdoor dry bulb temperature (°C)', 215.3, 522.7], ['Outdoor dry bulb temperature (°C)', 492.8, 522.7],
  ['The inverse of temperature difference', 820.8, 523.3], ['outside and inside', 820.8, 541.7],
  ['The inverse of temperature difference', 1098.8, 523.3], ['outside and inside', 1098.8, 541.7]
];
titles.forEach(t => layout.annotations.push(annPx(t[0], t[1], t[2], {font: TF})));

const vtitles = [
  ['Indoor operative', 55, 84], ['temperature (°C)', 72.7, 84],
  ['Hourly airflow from', 55, 268.5], ['the model (l/s)', 71.7, 269],
  ['Indoor operative', 35, 461.7], ['temperature (°C)', 53.3, 461.7],
  ['Airflow (L/s)', 659.3, 450]
];
vtitles.forEach(t => layout.annotations.push(annPx(t[0], t[1], t[2], {font: TF, textangle: -90})));

Plotly.newPlot('chart', traces, layout, {staticPlot: true, displayModeBar: false});
</script></body></html>
